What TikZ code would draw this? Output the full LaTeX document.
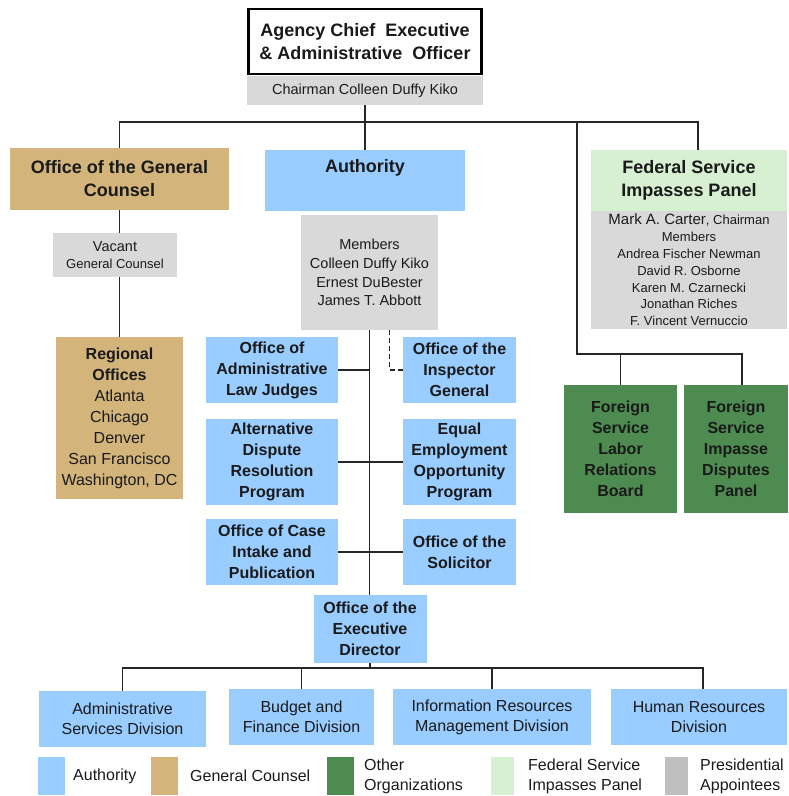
\documentclass[tikz,border=0pt]{standalone}
\usepackage{fontspec}
\setmainfont{Liberation Sans}
\definecolor{authblue}{HTML}{99CCFF}
\definecolor{gctan}{HTML}{D3B57C}
\definecolor{othergreen}{HTML}{4D8B50}
\definecolor{panelgreen}{HTML}{D6F0D1}
\definecolor{apptgray}{HTML}{D9D9D9}
\definecolor{keygray}{HTML}{BFBFBF}
\definecolor{linec}{HTML}{262626}
\definecolor{txtc}{HTML}{1A1A1A}

\begin{document}
\begin{tikzpicture}[x=1pt, y=-1pt,
    unit/.style={inner sep=0pt, align=center, text=txtc, font=\fontsize{16}{21}\selectfont\bfseries},
    wh/.style 2 args={minimum width=#1, minimum height=#2},
    auth/.style={unit, fill=authblue},
    gc/.style={unit, fill=gctan},
    other/.style={unit, fill=othergreen},
    panel/.style={unit, fill=panelgreen, font=\fontsize{18}{22.5}\selectfont\bfseries},
    appt/.style={unit, fill=apptgray, font=\fontsize{14.5}{18.7}\selectfont},
    division/.style={auth, font=\fontsize{16}{20}\selectfont},
    link/.style={draw=linec, line width=1.3pt},
    swatch/.style={inner sep=0pt, minimum width=27, minimum height=38},
    key/.style={anchor=west, align=left, inner sep=0pt, text=txtc, font=\fontsize{16}{20}\selectfont}]
    \useasboundingbox (0,0) rectangle (788,796);

    % Head of the agency
    \node[unit, wh={233}{65}, fill=white, draw=black, line width=2.5pt,
        font=\fontsize{18}{23}\selectfont\bfseries] (ceo) at (365,41.5)
        {Agency Chief\ \ Executive\\\&\ Administrative\ \ Officer};
    \node[appt, wh={236}{29}] (chair) at (365,90.5) {Chairman Colleen Duffy Kiko};

    % Second row
    \node[gc, wh={219}{62}, font=\fontsize{18}{23}\selectfont\bfseries] (ogc) at (119.5,179)
        {Office of the General\\Counsel};
    \node[auth, wh={200}{61}, font=\fontsize{18}{23}\selectfont\bfseries] (auth) at (365,180.5)
        {Authority\\\strut};
    \node[panel, wh={196}{61}] (fsip) at (689,180.5) {Federal Service\\Impasses Panel};
    \node[appt, wh={196}{118}, font=\fontsize{13}{16.8}\selectfont] (fsipm) at (689,270)
        {{\fontsize{15}{16.8}\selectfont Mark A. Carter}, Chairman\\Members\\Andrea Fischer Newman\\
         David R. Osborne\\Karen M. Czarnecki\\Jonathan Riches\\F. Vincent Vernuccio};

    % General Counsel side
    \node[appt, wh={124}{44}, font=\fontsize{14.5}{17}\selectfont] (vac) at (115,255)
        {Vacant\\{\fontsize{13}{17}\selectfont General Counsel}};
    \node[gc, wh={127}{162}, font=\fontsize{16}{21}\selectfont] (reg) at (119.5,418)
        {\textbf{Regional}\\\textbf{Offices}\\Atlanta\\Chicago\\Denver\\San Francisco\\Washington, DC};

    % Authority side
    \node[appt, wh={137}{115}] (mem) at (369.5,272.5)
        {Members\\Colleen Duffy Kiko\\Ernest DuBester\\James T. Abbott};
    \node[auth, wh={132}{66}] (oalj) at (272,370) {Office of\\Administrative\\Law Judges};
    \node[auth, wh={132}{86}] (adr) at (272,462) {Alternative\\Dispute\\Resolution\\Program};
    \node[auth, wh={132}{66}] (cip) at (272,552) {Office of Case\\Intake and\\Publication};
    \node[auth, wh={113}{66}] (oig) at (459.5,370) {Office of the\\Inspector\\General};
    \node[auth, wh={113}{86}] (eeo) at (459.5,462) {Equal\\Employment\\Opportunity\\Program};
    \node[auth, wh={113}{66}] (sol) at (459.5,552) {Office of the\\Solicitor};
    \node[auth, wh={113}{68}] (ed) at (370,629) {Office of the\\Executive\\Director};

    % Other organizations
    \node[other, wh={113}{128}] (fslrb) at (620.5,449) {Foreign\\Service\\Labor\\Relations\\Board};
    \node[other, wh={104}{128}] (fsidp) at (736,449) {Foreign\\Service\\Impasse\\Disputes\\Panel};

    % Divisions
    \node[division, wh={167}{56}] (asd) at (122.5,719) {Administrative\\Services Division};
    \node[division, wh={145}{56}] (bfd) at (301.5,717) {Budget and\\Finance Division};
    \node[division, wh={198}{56}] (irmd) at (492,717) {Information Resources\\Management Division};
    \node[division, wh={176}{56}] (hrd) at (699,717) {Human Resources\\Division};

    % Connectors
    \coordinate (top) at (365,122);
    \coordinate (fs) at (577,122);
    \coordinate (fsb) at (577,354);
    \draw[link] (chair.south) -- (top);
    \draw[link] (ogc.north) |- (top) -| ([xshift=9pt]fsip.north);
    \draw[link] (top) -- (auth.north);
    \draw[link] (fs) -- (fsb) -| (fslrb.north);
    \draw[link] (fsb) -| ([xshift=6pt]fsidp.north);

    \draw[link] (ogc.south) -- (ogc.south |- vac.north);
    \draw[link] (ogc.south |- vac.south) -- (reg.north);

    \draw[link] (mem.south) -- (mem.south |- ed.north);
    \draw[link] (oalj.east) -- (mem.south |- oalj.east);
    \draw[link] (adr.east) -- (eeo.west);
    \draw[link] (cip.east) -- (sol.west);
    \draw[link, dash pattern=on 5pt off 3pt] (oig.west) -| ([xshift=20pt]mem.south);

    \coordinate (db) at (370,668);
    \draw[link] (ed.south) -- (db);
    \draw[link] (asd.north) |- (db) -| ([xshift=4pt]hrd.north);
    \draw[link] (bfd.north) -- (bfd.north |- db);
    \draw[link] (irmd.north) -- (irmd.north |- db);

    % Legend
    \node[swatch, fill=authblue] (k1) at (51.5,776) {};
    \node[key] (t1) at (73,776) {Authority};
    \node[swatch, fill=gctan] (k2) at (164.5,776) {};
    \node[key] (t2) at (190,776) {General Counsel};
    \node[swatch, fill=othergreen] (k3) at (340.5,776) {};
    \node[key] (t3) at (364,776) {Other\\Organizations};
    \node[swatch, fill=panelgreen, minimum width=23] (k4) at (502.5,776) {};
    \node[key] (t4) at (528,776) {Federal Service\\Impasses Panel};
    \node[swatch, fill=keygray, minimum width=23] (k5) at (676.5,776) {};
    \node[key] (t5) at (700,776) {Presidential\\Appointees};
\end{tikzpicture}
\end{document}
